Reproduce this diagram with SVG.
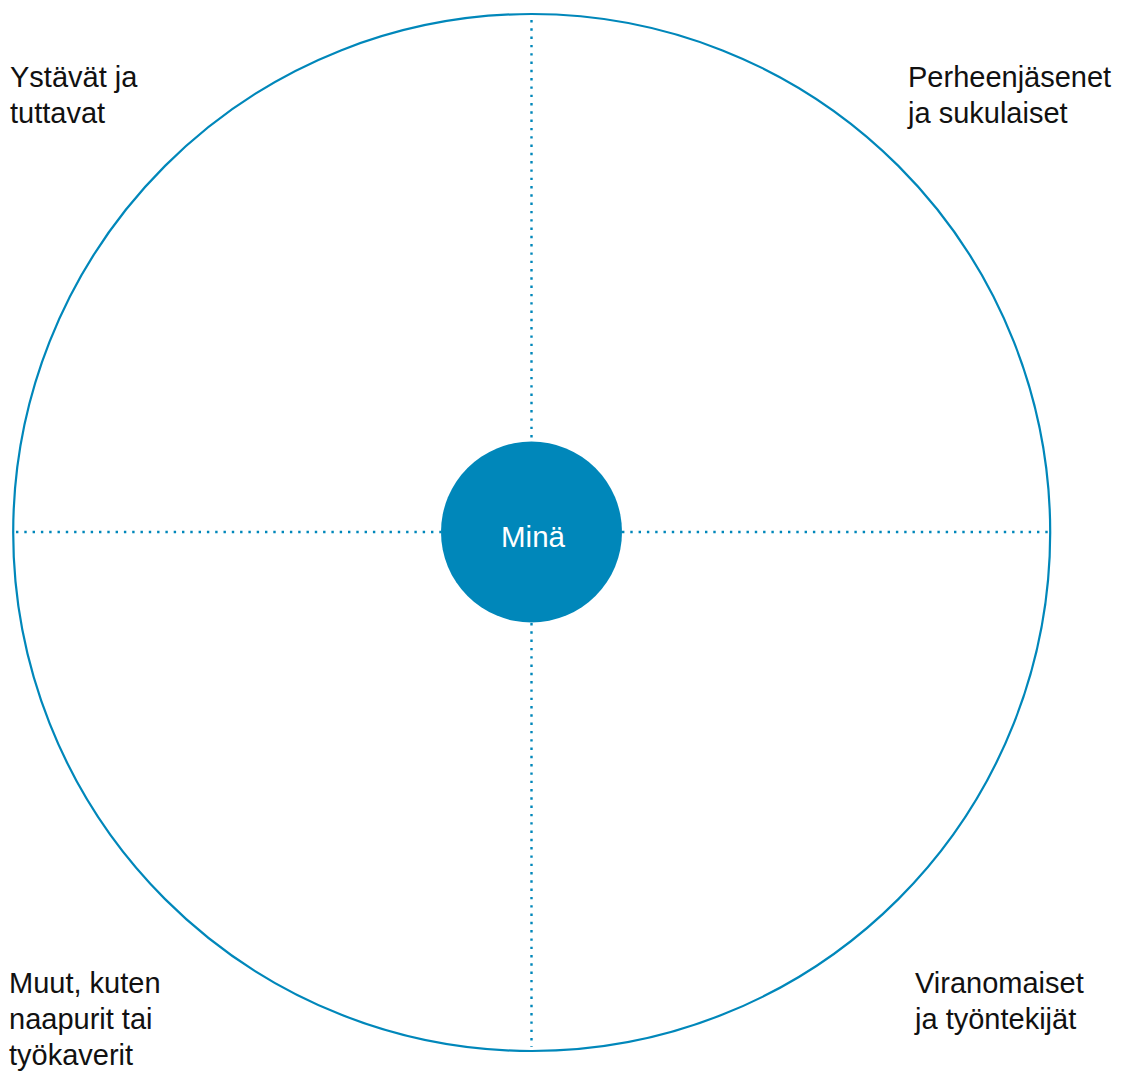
<svg xmlns="http://www.w3.org/2000/svg" width="1125" height="1074" viewBox="0 0 1125 1074">
  <style>
    .ring { fill: none; stroke: #0087BA; stroke-width: 2.2; }
    .axis { stroke: #0087BA; stroke-width: 2.4; stroke-dasharray: 2.4 5.9; fill: none; }
    .hub { fill: #0087BA; }
    .label { font-family: "Liberation Sans", Arial, Helvetica, sans-serif; font-size: 29px; fill: #111; }
    .hub-text { font-family: "Liberation Sans", Arial, Helvetica, sans-serif; font-size: 29.5px; fill: #fff; text-anchor: middle; }
  </style>
  <rect width="1125" height="1074" fill="#fff"/>

  <!-- outer circle -->
  <g id="outer-circle">
    <circle class="ring" cx="531.7" cy="532.5" r="518.5"/>
  </g>

  <!-- dotted quadrant dividers -->
  <g id="connectors">
    <line class="axis" x1="531.5" y1="20" x2="531.5" y2="441"/>
    <line class="axis" x1="531.5" y1="623" x2="531.5" y2="1047"/>
    <line class="axis" x1="16" y1="532" x2="441" y2="532"/>
    <line class="axis" x1="622" y1="532" x2="1051" y2="532"/>
  </g>

  <!-- centre node -->
  <g id="node-mina">
    <circle class="hub" cx="531.5" cy="532" r="90.5"/>
    <text class="hub-text" x="533" y="547">Minä</text>
  </g>

  <!-- quadrant labels -->
  <g id="node-ystavat">
    <text class="label" x="10" y="86.5">Ystävät ja</text>
    <text class="label" x="10" y="122.5">tuttavat</text>
  </g>
  <g id="node-perhe">
    <text class="label" x="908" y="86.5">Perheenjäsenet</text>
    <text class="label" x="908" y="122.5">ja sukulaiset</text>
  </g>
  <g id="node-muut">
    <text class="label" x="9" y="992.5">Muut, kuten</text>
    <text class="label" x="9" y="1028.5">naapurit tai</text>
    <text class="label" x="9" y="1064.5">työkaverit</text>
  </g>
  <g id="node-viranomaiset">
    <text class="label" x="915" y="992.5">Viranomaiset</text>
    <text class="label" x="915" y="1028.5">ja työntekijät</text>
  </g>
</svg>
